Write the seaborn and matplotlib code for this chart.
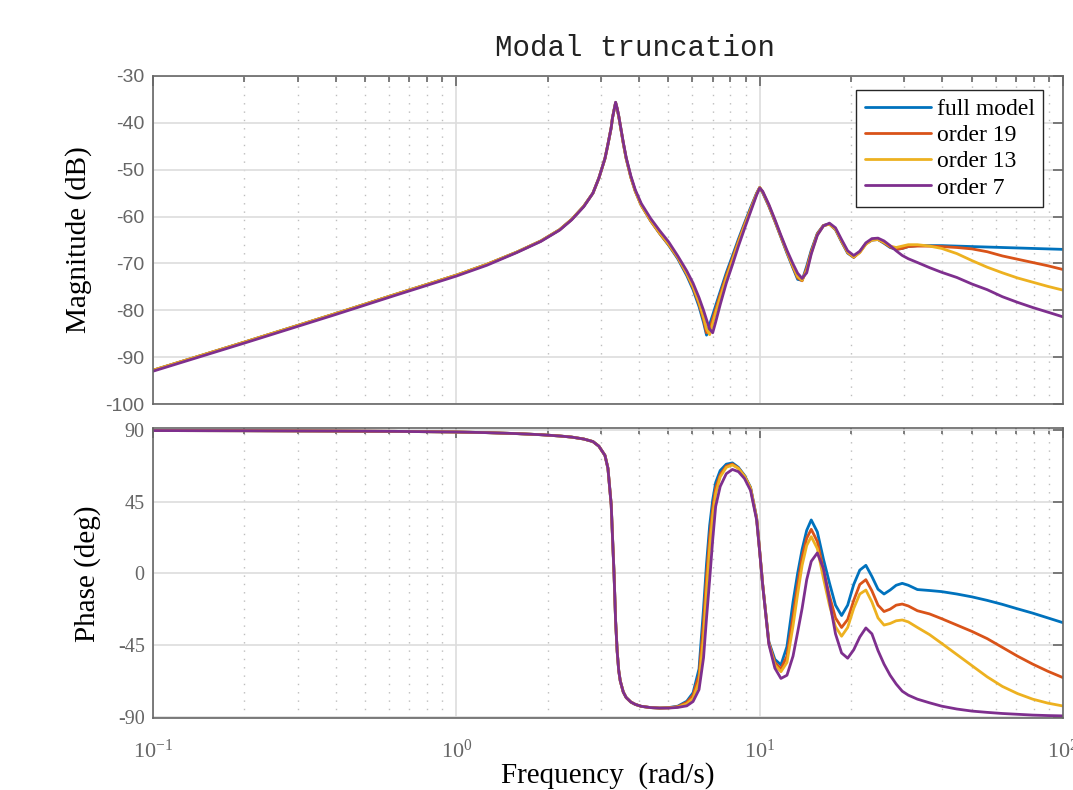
import numpy as np
import pandas as pd
import matplotlib
matplotlib.use("Agg")
import matplotlib.pyplot as plt
import seaborn as sns
from matplotlib.ticker import FixedLocator, LogLocator, NullFormatter, FuncFormatter

# Frequency grid (rad/s)
freq = [0.1, 0.2, 0.4, 0.63, 1.0, 1.26, 1.58, 1.9, 2.19, 2.4, 2.63, 2.82, 2.95, 3.09,
        3.16, 3.24, 3.27, 3.31, 3.35, 3.39, 3.43, 3.47, 3.55, 3.63, 3.76, 3.89, 4.07,
        4.37, 4.68, 5.01, 5.37, 5.75, 6.03, 6.31, 6.53, 6.68, 6.84, 7.0, 7.16, 7.41,
        7.76, 8.13, 8.51, 8.91, 9.33, 9.77, 10.0, 10.23, 10.72, 11.22, 11.75, 12.3,
        12.88, 13.34, 13.8, 14.29, 14.79, 15.49, 16.22, 16.98, 17.78, 18.62, 19.5,
        20.42, 21.38, 22.39, 23.44, 24.55, 25.7, 26.92, 28.18, 29.51, 30.9, 33.11,
        36.31, 39.81, 44.67, 50.12, 56.23, 63.1, 70.79, 79.43, 89.13, 100.0]

models = ["full model", "order 19", "order 13", "order 7"]
colors = ["#0072BD", "#D95319", "#EDB120", "#7E2F8E"]

# Magnitude (dB)
mag_full = [-92.8, -86.8, -80.7, -76.6, -72.5, -70.2, -67.6, -65.2, -62.8, -60.6, -57.8, -55.0,
            -51.8, -47.6, -44.6, -41.0, -39.0, -37.3, -35.7, -37.0, -38.6, -40.5, -44.3, -47.6,
            -51.6, -54.6, -57.6, -60.9, -63.6, -66.1,
            -69.0, -72.6, -75.6, -79.2, -82.6, -85.3, -83.0, -81.0, -79.0, -76.0, -72.0, -68.4,
            -64.8, -61.4, -58.1, -55.0, -53.8, -54.9, -57.8, -61.0, -64.4, -67.8, -71.0, -73.4,
            -73.6, -70.6, -67.2, -63.6, -61.9, -61.6, -62.8, -65.4, -67.8, -68.7, -67.5, -65.8,
            -65.0, -64.9, -65.7, -66.6, -67.0, -66.8, -66.4, -66.2, -66.2, -66.2, -66.3, -66.4,
            -66.5, -66.6, -66.7, -66.8, -66.9, -67.0]
mag_19 = [-92.8, -86.8, -80.7, -76.6, -72.5, -70.2, -67.6, -65.2, -62.8, -60.6, -57.8, -55.0,
          -51.8, -47.6, -44.6, -41.0, -39.0, -37.3, -35.7, -37.0, -38.6, -40.5, -44.3, -47.6,
          -51.6, -54.6, -57.6, -60.9, -63.6, -66.0,
          -68.8, -72.3, -75.2, -78.7, -82.0, -84.8, -84.3, -81.8, -79.8, -76.6, -72.6, -68.9,
          -65.2, -61.7, -58.4, -55.1, -53.8, -54.8, -57.7, -60.9, -64.3, -67.6, -70.8, -73.1,
          -73.7, -71.0, -67.5, -63.7, -61.9, -61.6, -62.7, -65.3, -67.7, -68.7, -67.6, -65.8,
          -65.0, -64.9, -65.6, -66.5, -67.0, -66.8, -66.4, -66.3, -66.3, -66.4, -66.6, -66.9,
          -67.5, -68.4, -69.1, -69.8, -70.5, -71.3]
mag_13 = [-92.8, -86.8, -80.7, -76.6, -72.5, -70.2, -67.6, -65.2, -62.8, -60.6, -57.8, -55.0,
          -51.8, -47.6, -44.6, -41.0, -39.0, -37.3, -35.7, -37.0, -38.6, -40.5, -44.3, -47.6,
          -51.6, -54.6, -57.6, -60.8, -63.5, -65.9,
          -68.7, -72.1, -74.9, -78.3, -81.5, -84.0, -85.2, -82.8, -80.5, -77.3, -73.2, -69.4,
          -65.6, -62.0, -58.6, -55.2, -53.8, -54.7, -57.6, -60.8, -64.2, -67.5, -70.6, -72.8,
          -73.6, -71.5, -67.8, -63.9, -62.0, -61.6, -62.7, -65.2, -67.6, -68.6, -67.7, -65.9,
          -65.0, -64.9, -65.5, -66.3, -66.6, -66.3, -66.0, -66.0, -66.3, -66.8, -67.9, -69.4,
          -70.8, -72.0, -73.1, -74.0, -74.9, -75.7]
mag_7 = [-93.0, -87.0, -80.9, -76.8, -72.7, -70.4, -67.7, -65.3, -62.9, -60.7, -57.9, -55.0,
         -51.8, -47.6, -44.6, -41.0, -39.0, -37.3, -35.6, -36.9, -38.5, -40.4, -44.1, -47.4,
         -51.3, -54.3, -57.2, -60.4, -63.0, -65.4,
         -68.4, -71.6, -74.2, -77.3, -80.0, -82.0, -84.0, -84.8, -82.5, -78.8, -74.2, -70.3,
         -66.3, -62.6, -59.0, -55.4, -53.9, -54.6, -57.4, -60.6, -64.0, -67.2, -70.1, -72.1,
         -73.2, -72.0, -68.0, -64.0, -62.0, -61.4, -62.4, -64.9, -67.3, -68.3, -67.4, -65.6,
         -64.7, -64.6, -65.2, -66.2, -67.3, -68.3, -69.0, -69.8, -70.9, -71.9, -73.0, -74.4,
         -75.6, -77.1, -78.3, -79.4, -80.4, -81.4]

# Phase (deg)
phase_full = [89.6, 89.5, 89.3, 89.1, 88.7, 88.3, 87.7, 87.0, 86.2, 85.5, 84.3, 82.7, 79.8,
              74.0, 66.0, 43.0, 24.0, 0.0, -30.0, -49.0, -61.0, -67.5, -74.5, -78.0, -80.8,
              -82.3, -83.5, -84.3, -84.6,
              -84.3, -83.4, -80.3, -75.0, -60.0, -22.0, 6.0, 30.0, 46.0, 57.0, 64.5, 68.5, 69.3,
              66.5, 61.5, 54.0, 35.0, 14.0, -7.0, -43.0, -54.0, -57.5, -46.0, -18.0, 0.0, 15.0,
              27.0, 33.5, 26.0, 9.0, -6.0, -20.0, -26.5, -20.0, -7.0, 2.0, 5.0, -2.0, -10.0,
              -13.0, -10.5, -7.5, -6.3, -7.5, -10.2, -10.8, -11.5, -13.0, -14.8, -17.0, -19.5,
              -22.3, -25.0, -28.0, -31.0]
phase_19 = [89.6, 89.5, 89.3, 89.1, 88.7, 88.3, 87.7, 87.0, 86.2, 85.5, 84.3, 82.7, 79.8,
            74.0, 66.0, 43.0, 24.0, 0.0, -30.0, -49.0, -61.0, -67.5, -74.5, -78.0, -80.8,
            -82.3, -83.5, -84.3, -84.6,
            -84.4, -83.7, -81.0, -76.5, -64.0, -31.0, -2.0, 23.0, 41.0, 53.5, 62.0, 67.3, 68.6,
            66.0, 61.0, 53.5, 34.5, 14.0, -7.0, -43.5, -56.0, -60.0, -52.0, -27.0, -7.0, 10.0,
            22.0, 27.6, 20.0, 2.0, -14.0, -28.0, -34.0, -29.0, -17.0, -7.0, -4.0, -11.0, -20.0,
            -24.0, -22.5, -20.0, -19.3, -20.5, -23.5, -25.5, -28.5, -32.5, -36.5, -41.0, -46.5,
            -52.0, -57.0, -61.5, -65.5]
phase_13 = [89.6, 89.5, 89.3, 89.1, 88.7, 88.3, 87.7, 87.0, 86.2, 85.5, 84.3, 82.7, 79.8,
            74.0, 66.0, 43.0, 24.0, 0.0, -30.0, -49.0, -61.0, -67.5, -74.5, -78.0, -80.8,
            -82.3, -83.5, -84.3, -84.6,
            -84.5, -83.9, -82.0, -78.5, -68.0, -40.0, -11.0, 16.0, 36.0, 50.0, 60.5, 66.5, 68.0,
            65.8, 61.0, 53.5, 34.5, 14.0, -7.0, -44.0, -57.5, -61.8, -56.0, -33.0, -13.0, 5.0,
            17.5, 23.0, 15.5, -3.0, -20.0, -33.5, -39.5, -34.0, -22.0, -13.0, -10.5, -18.0,
            -28.0, -32.5, -31.5, -29.8, -29.3, -30.5, -34.0, -38.5, -44.0, -51.0, -58.0, -65.0,
            -71.0, -75.5, -79.0, -81.5, -83.3]
phase_7 = [89.6, 89.5, 89.3, 89.1, 88.7, 88.3, 87.7, 87.0, 86.2, 85.5, 84.3, 82.7, 79.8,
           74.0, 66.0, 43.0, 24.0, 0.0, -30.0, -49.0, -61.0, -67.5, -74.5, -78.0, -80.8,
           -82.3, -83.5, -84.3, -84.6,
           -84.6, -84.2, -83.2, -80.5, -73.0, -53.0, -28.0, -4.0, 21.0, 42.0, 54.5, 62.5, 65.2,
           63.8, 59.5, 52.0, 33.5, 13.5, -7.5, -44.5, -59.5, -66.0, -64.0, -52.0, -37.0, -22.0,
           -4.0, 7.5, 12.8, 3.0, -17.0, -38.0, -50.0, -53.3, -48.0, -40.0, -34.3, -38.0, -48.5,
           -57.0, -64.0, -69.5, -74.0, -76.5, -79.0, -81.3, -83.4, -85.2, -86.5, -87.3, -88.0,
           -88.5, -89.0, -89.3, -89.5]

mags = [mag_full, mag_19, mag_13, mag_7]
phases = [phase_full, phase_19, phase_13, phase_7]

df = pd.concat(
    [pd.DataFrame({"freq": freq, "mag": m, "phase": p, "model": name})
     for name, m, p in zip(models, mags, phases)],
    ignore_index=True,
)

sns.set_theme(style="white")
plt.rcParams["font.family"] = ["Liberation Serif", "DejaVu Serif"]
plt.rcParams["mathtext.fontset"] = "custom"
plt.rcParams["mathtext.rm"] = "Liberation Serif"
plt.rcParams["mathtext.it"] = "Liberation Serif:italic"
plt.rcParams["mathtext.default"] = "rm"
plt.rcParams["axes.unicode_minus"] = False

fig = plt.figure(figsize=(10.73, 7.90), dpi=100)
ax1 = fig.add_axes([0.1426, 0.4886, 0.8481, 0.4152])
ax2 = fig.add_axes([0.1426, 0.0908, 0.8481, 0.3670])

palette = dict(zip(models, colors))
sns.lineplot(data=df, x="freq", y="mag", hue="model", hue_order=models, palette=palette,
             estimator=None, sort=False, linewidth=2.0, legend=False, ax=ax1)
sns.lineplot(data=df, x="freq", y="phase", hue="model", hue_order=models, palette=palette,
             estimator=None, sort=False, linewidth=2.0, legend=False, ax=ax2)

spine_col = "#666666"
label_col = "#666666"

for ax in (ax1, ax2):
    ax.set_xscale("log")
    ax.set_xlim(0.1, 100)
    ax.xaxis.set_major_locator(LogLocator(base=10, numticks=10))
    ax.xaxis.set_minor_locator(LogLocator(base=10, subs=np.arange(2, 10), numticks=20))
    ax.xaxis.set_minor_formatter(NullFormatter())
    ax.set_axisbelow(True)
    ax.grid(which="major", color="#dddddd", linewidth=1.2, linestyle="-")
    ax.grid(which="minor", axis="x", color="#bdbdbd", linewidth=1.0, linestyle=(0, (1, 5)))
    for s in ax.spines.values():
        s.set_visible(True)
        s.set_color(spine_col)
        s.set_linewidth(1.2)
    ax.tick_params(which="both", direction="in", top=True, right=True, color=spine_col,
                   width=1.2, labelcolor=label_col)
    ax.tick_params(which="major", length=7)
    ax.tick_params(which="minor", length=4)
    ax.set_xlabel("")
    ax.set_ylabel("")

# Magnitude axes
ax1.set_ylim(-100, -30)
ax1.yaxis.set_major_locator(FixedLocator([-100, -90, -80, -70, -60, -50, -40, -30]))
ax1.tick_params(labelbottom=False, pad=6)
for lab in ax1.get_yticklabels():
    lab.set_fontfamily("Liberation Sans")
    lab.set_fontsize(14)
ax1.set_ylabel("Magnitude (dB)", fontsize=21, color="black")
ax1.yaxis.set_label_coords(-0.067, 0.5)

# Phase axes
ax2.set_ylim(-91, 91)
ax2.yaxis.set_major_locator(FixedLocator([-90, -45, 0, 45, 90]))
ax2.xaxis.set_major_formatter(FuncFormatter(lambda v, pos: r"$10^{%d}$" % round(np.log10(v))))
ax2.tick_params(axis="y", labelsize=14.5, pad=6)
ax2.tick_params(axis="x", labelsize=16, pad=15)
ax2.set_ylabel("Phase (deg)", fontsize=21, color="black")
ax2.yaxis.set_label_coords(-0.057, 0.5)
ax2.set_xlabel("Frequency  (rad/s)", fontsize=21, color="black", labelpad=0)

leg = ax1.legend(ax1.get_lines()[:4], models, loc="upper right",
                 bbox_to_anchor=(0.978, 0.957), fontsize=17, frameon=True, fancybox=False,
                 framealpha=1, edgecolor="#262626", handlelength=2.8, handletextpad=0.25,
                 labelspacing=0.2, borderpad=0.35, borderaxespad=0)
leg.get_frame().set_linewidth(1.0)
for t in leg.get_texts():
    t.set_color("black")

fig.text(0.592, 0.939, "Modal truncation", family="Liberation Mono", fontsize=21,
         ha="center", va="center", color="#222222")

fig.savefig("out.png", dpi=100)
